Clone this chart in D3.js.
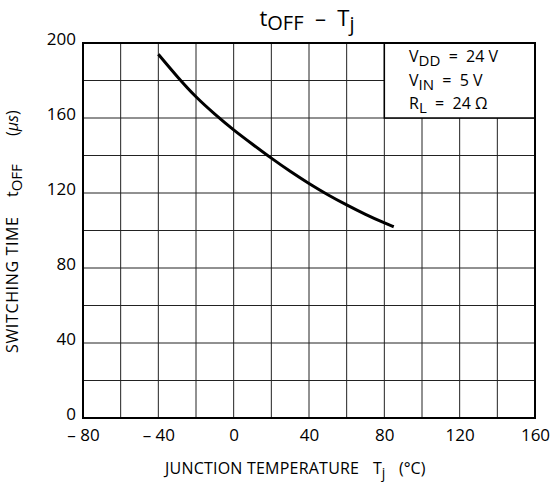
<!DOCTYPE html>
<html><head><meta charset="utf-8">
<script src="https://cdn.jsdelivr.net/npm/d3@7"></script>
<style>body{margin:0;background:#fff}svg{display:block}text{font-family:"Open Sans","DejaVu Sans",sans-serif;fill:#000;white-space:pre}</style>
</head><body>
<svg id="c" width="552" height="488"></svg>
<script>
const temps = [-40, -30, -20, -10, 0, 10, 20, 30, 40, 50, 60, 70, 80, 85];
const toff  = [194, 182, 171, 162, 153.5, 146, 138.5, 131.5, 125, 119, 113.6, 108.5, 104, 102];
const xTicks = [-80, -40, 0, 40, 80, 120, 160];
const xTickLabels = ["\u2013 80", "\u2013 40", "0", "40", "80", "120", "160"];
const yTicks = [0, 40, 80, 120, 160, 200];
const xGrid = d3.range(-80, 161, 20);
const yGrid = d3.range(0, 201, 20);

const svg = d3.select("#c");
const L = 83, R = 535, T = 43, B = 418;
const x = d3.scaleLinear().domain([-80, 160]).range([L, R]);
const y = d3.scaleLinear().domain([0, 200]).range([B, T]);
const FF = '"Open Sans","DejaVu Sans",sans-serif';

// grid
svg.append("g").selectAll("line").data(xGrid).join("line")
  .attr("x1", d => x(d)).attr("x2", d => x(d)).attr("y1", T).attr("y2", B)
  .attr("stroke", "#222").attr("stroke-width", 1);
svg.append("g").selectAll("line").data(yGrid).join("line")
  .attr("x1", L).attr("x2", R).attr("y1", d => y(d)).attr("y2", d => y(d))
  .attr("stroke", "#222").attr("stroke-width", 1);

// legend box (covers grid)
svg.append("rect").attr("x", x(80)).attr("y", y(200)).attr("width", x(160) - x(80)).attr("height", y(160) - y(200))
  .attr("fill", "#fff").attr("stroke", "#000").attr("stroke-width", 1.5);

// frame
svg.append("rect").attr("x", L).attr("y", T).attr("width", R - L).attr("height", B - T)
  .attr("fill", "none").attr("stroke", "#000").attr("stroke-width", 2);

// curve
const data = temps.map((t, i) => [t, toff[i]]);
svg.append("path").datum(data)
  .attr("d", d3.line().x(d => x(d[0])).y(d => y(d[1])).curve(d3.curveBasis))
  .attr("fill", "none").attr("stroke", "#000").attr("stroke-width", 3);

// axes labels
const xa = d3.axisBottom(x).tickValues(xTicks).tickSize(0).tickFormat((d, i) => xTickLabels[i]);
const gx = svg.append("g").attr("transform", `translate(0,${B})`).call(xa);
gx.select(".domain").remove();
gx.selectAll("text").attr("dy", 0).attr("y", 23).style("font-size", "17px").style("font-family", FF).style("white-space", "pre");

const ya = d3.axisLeft(y).tickValues(yTicks).tickSize(0);
const gy = svg.append("g").attr("transform", `translate(${L},0)`).call(ya);
gy.select(".domain").remove();
gy.selectAll("text").attr("x", -7).attr("dy", "0.1em").style("font-size", "17px").style("font-family", FF);

// title
const title = svg.append("text").attr("x", 307).attr("y", 26).attr("text-anchor", "middle").style("font-size", "22px");
title.append("tspan").text("t");
title.append("tspan").attr("dy", 4).style("font-size", "20px").text("OFF");
title.append("tspan").attr("dy", -4).text("  \u2013  T");
title.append("tspan").attr("dy", 5).style("font-size", "20px").text("j");

// legend text
function sub(el, main, s, rest) {
  el.append("tspan").text(main);
  el.append("tspan").attr("dy", 4).style("font-size", "15px").text(s);
  el.append("tspan").attr("dy", -4).text(rest);
}
const lf = "16px";
sub(svg.append("text").attr("x", 409).attr("y", 62).style("font-size", lf), "V", "DD", "  =  24 V");
sub(svg.append("text").attr("x", 409).attr("y", 86).style("font-size", lf), "V", "IN", "  =  5 V");
sub(svg.append("text").attr("x", 409).attr("y", 109).style("font-size", lf), "R", "L", "  =  24 \u03A9");

// x title
svg.append("text").attr("x", 165).attr("y", 474).style("font-size", "16px")
  .attr("textLength", 194).attr("lengthAdjust", "spacing").text("JUNCTION TEMPERATURE");
const xt2 = svg.append("text").attr("x", 373).attr("y", 474).style("font-size", "16px");
xt2.append("tspan").text("T");
xt2.append("tspan").attr("dy", 4).style("font-size", "14px").text("j");
svg.append("text").attr("x", 399).attr("y", 474).style("font-size", "16px").text("(\u00B0C)");

// y title (rotated pieces, reading bottom to top)
const rot = (yy) => `translate(18,${yy}) rotate(-90)`;
svg.append("text").attr("transform", rot(353)).style("font-size", "16px")
  .attr("textLength", 136).attr("lengthAdjust", "spacing").text("SWITCHING TIME");
const yt2 = svg.append("text").attr("transform", rot(197)).style("font-size", "16px");
yt2.append("tspan").text("t");
yt2.append("tspan").attr("dy", 4).style("font-size", "15px").text("OFF");
const yt3 = svg.append("text").attr("transform", rot(136)).style("font-size", "16px");
yt3.append("tspan").text("(");
yt3.append("tspan").style("font-style", "italic").text("\u00B5s");
yt3.append("tspan").text(")");
</script>
</body></html>
